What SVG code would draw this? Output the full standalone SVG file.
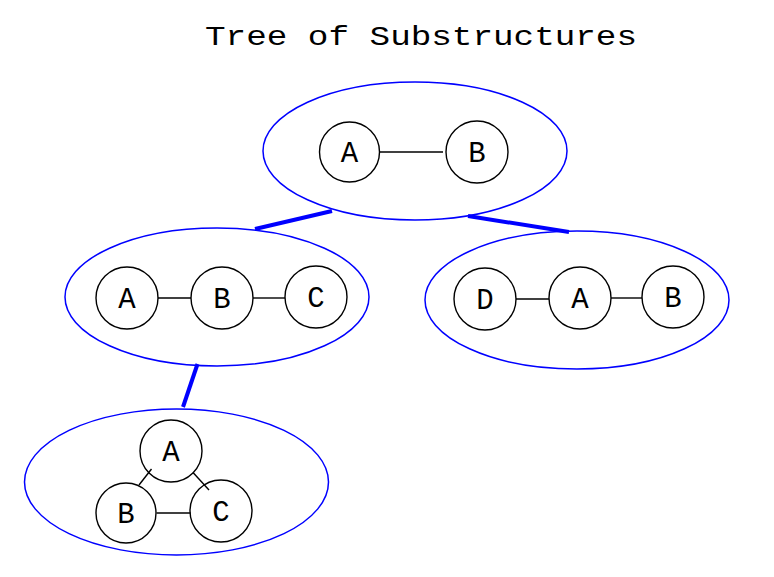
<svg xmlns="http://www.w3.org/2000/svg" width="774" height="577" viewBox="0 0 774 577">
<style>
.bg{fill:#fff}
.grp{fill:none;stroke:#0000ff;stroke-width:1.5}
.nd{fill:none;stroke:#000;stroke-width:1.4}
.lb{font-family:"Liberation Mono","Courier New",monospace;font-size:29px;fill:#000;text-anchor:middle}
.tt{font-family:"Liberation Mono","Courier New",monospace;font-size:28px;fill:#000;text-anchor:middle}
.e{stroke:#000;stroke-width:1.4;fill:none}
.te{stroke:#0000ff;stroke-width:4;fill:none}
</style>
<rect class="bg" x="0" y="0" width="774" height="577"/>
<text class="tt" x="421" y="45" textLength="432" lengthAdjust="spacingAndGlyphs">Tree of Substructures</text>
<g id="connectors">
<line class="te" x1="255" y1="229" x2="332" y2="211"/>
<line class="te" x1="468" y1="216" x2="569" y2="232"/>
<line class="te" x1="197.5" y1="364" x2="183" y2="407"/>
</g>
<g id="s1">
<ellipse class="grp" cx="415" cy="151" rx="152" ry="69"/>
<g id="s1a"><circle class="nd" cx="349.5" cy="152" r="30"/><text class="lb" x="349.5" y="162">A</text></g>
<g id="s1b"><circle class="nd" cx="477" cy="152" r="31"/><text class="lb" x="477" y="162">B</text></g>
<line class="e" x1="380" y1="152" x2="443" y2="152"/>
</g>
<g id="s2">
<ellipse class="grp" cx="217" cy="297" rx="152" ry="69"/>
<g id="s2a"><circle class="nd" cx="127" cy="298" r="31"/><text class="lb" x="127" y="308">A</text></g>
<g id="s2b"><circle class="nd" cx="222" cy="298" r="31"/><text class="lb" x="222" y="308">B</text></g>
<g id="s2c"><circle class="nd" cx="316" cy="297" r="31"/><text class="lb" x="316" y="307">C</text></g>
<line class="e" x1="158" y1="298" x2="191" y2="298"/>
<line class="e" x1="253" y1="298" x2="285" y2="298"/>
</g>
<g id="s3">
<ellipse class="grp" cx="577" cy="300" rx="152" ry="69"/>
<g id="s3d"><circle class="nd" cx="485" cy="299" r="31"/><text class="lb" x="485" y="309">D</text></g>
<g id="s3a"><circle class="nd" cx="580" cy="298" r="31"/><text class="lb" x="580" y="308">A</text></g>
<g id="s3b"><circle class="nd" cx="673" cy="297" r="31"/><text class="lb" x="673" y="307">B</text></g>
<line class="e" x1="516" y1="299" x2="549" y2="299"/>
<line class="e" x1="611" y1="298" x2="642" y2="298"/>
</g>
<g id="s4">
<ellipse class="grp" cx="176.5" cy="482" rx="152" ry="73"/>
<g id="s4a"><circle class="nd" cx="171" cy="451" r="31"/><text class="lb" x="171" y="461">A</text></g>
<g id="s4b"><circle class="nd" cx="126" cy="513" r="30"/><text class="lb" x="126" y="523">B</text></g>
<g id="s4c"><circle class="nd" cx="221" cy="511" r="31"/><text class="lb" x="221" y="521">C</text></g>
<line class="e" x1="151.5" y1="469" x2="139" y2="485"/>
<line class="e" x1="193" y1="472.5" x2="209" y2="490"/>
<line class="e" x1="156.5" y1="513" x2="190.5" y2="513"/>
</g>
</svg>
